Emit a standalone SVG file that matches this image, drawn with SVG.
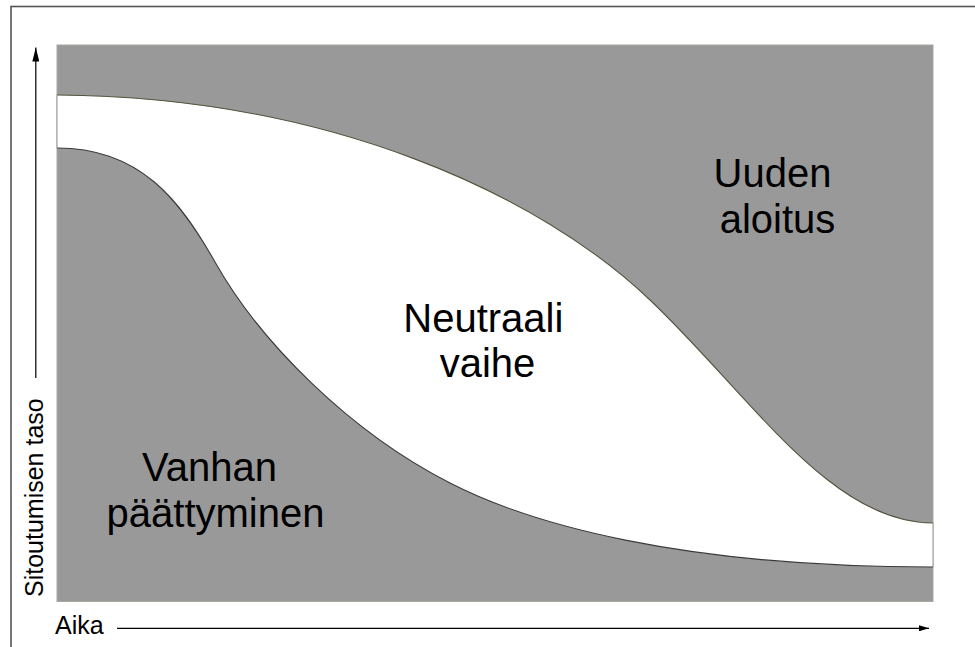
<svg xmlns="http://www.w3.org/2000/svg" width="975" height="647" viewBox="0 0 975 647">
<defs>
<marker id="ah" viewBox="0 0 10 6" refX="10" refY="3" markerWidth="10" markerHeight="6" markerUnits="userSpaceOnUse" orient="auto">
<path d="M0,0 L10,3 L0,6 Z" fill="#000"/>
</marker>
<marker id="ahv" viewBox="0 0 14 7" refX="14" refY="3.5" markerWidth="14" markerHeight="7" markerUnits="userSpaceOnUse" orient="auto">
<path d="M0,0 L14,3.5 L0,7 Z" fill="#000"/>
</marker>
<style>
.lbl{font-family:"Liberation Sans",Arial,sans-serif;font-size:40px;fill:#000;text-anchor:middle}
.ax{font-family:"Liberation Sans",Arial,sans-serif;font-size:25px;fill:#000}
.axl{stroke:#000;stroke-width:1.2;fill:none}
.crv{fill:none;stroke-width:1.1}
</style>
</defs>
<rect x="0" y="0" width="975" height="647" fill="#fff"/>
<rect id="frame" x="11" y="6.5" width="1100" height="800" fill="none" stroke="#555" stroke-width="1.6"/>
<g id="plot">
<rect x="57" y="45" width="876" height="556.5" fill="#999" stroke="#a8a8a0" stroke-width="1"/>
<path id="band" d="M57,95 C330,97 540,195 650,300 C750,395 830,523 933,523 L933,567 C680,567 530,524 450,483 C350,432 260,342 215,262 C180,200 140,148 57,148 Z" fill="#fff"/>
<path d="M57,95 C330,97 540,195 650,300 C750,395 830,523 933,523" class="crv" stroke="#55533e"/>
<path d="M57,148 C140,148 180,200 215,262 C260,342 350,432 450,483 C530,524 680,567 933,567" class="crv" stroke="#3a3a3a"/>
<line x1="57" y1="95" x2="57" y2="148" stroke="#999" stroke-width="1"/>
<line x1="933" y1="523" x2="933" y2="567" stroke="#999" stroke-width="1"/>
</g>
<g id="node-uuden">
<text class="lbl" x="772.5" y="186.7">Uuden</text>
<text class="lbl" x="777.5" y="233.3">aloitus</text>
</g>
<g id="node-neutraali">
<text class="lbl" x="483.3" y="331.7">Neutraali</text>
<text class="lbl" x="487.5" y="377.3">vaihe</text>
</g>
<g id="node-vanhan">
<text class="lbl" x="209.5" y="480.7">Vanhan</text>
<text class="lbl" x="215.5" y="527.3">päättyminen</text>
</g>
<g id="axis-labels">
<text class="ax" x="55" y="634.3">Aika</text>
<text class="ax" transform="translate(42.5,597) rotate(-90)">Sitoutumisen taso</text>
</g>
<g id="connectors">
<line class="axl" x1="117" y1="628.3" x2="929" y2="628.3" marker-end="url(#ah)"/>
<line class="axl" x1="35.8" y1="378" x2="35.8" y2="47.5" marker-end="url(#ahv)"/>
</g>
</svg>
